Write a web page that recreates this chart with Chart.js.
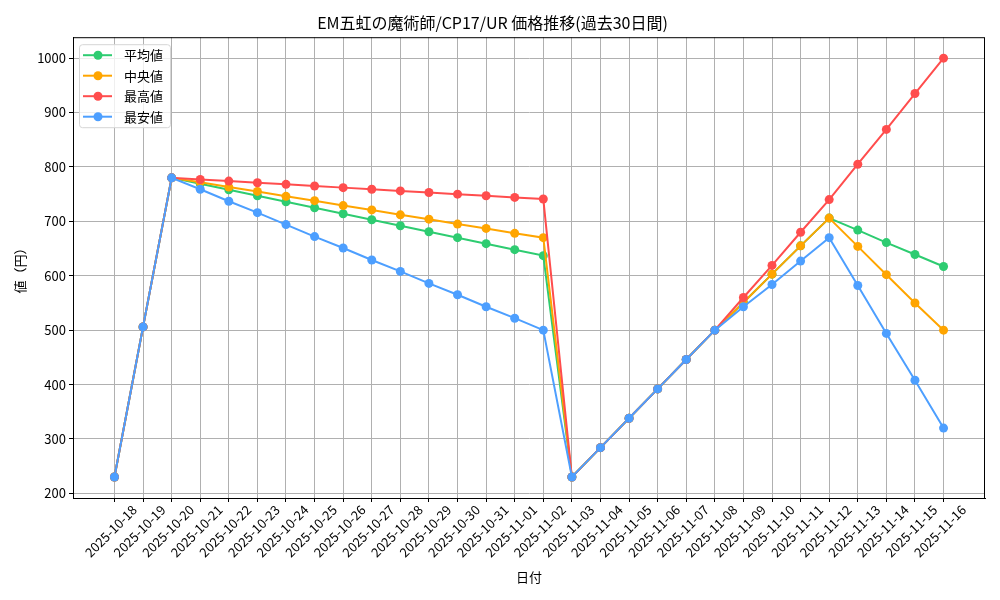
<!DOCTYPE html>
<html>
<head>
<meta charset="utf-8">
<script src="https://cdn.jsdelivr.net/npm/chart.js@4/dist/chart.umd.min.js"></script>
<style>
  html, body { margin: 0; padding: 0; background: #fff; }
  #wrap { width: 1000px; height: 600px; }
</style>
</head>
<body>
<div id="wrap"><canvas id="myChart"></canvas></div>
<script>
const dates = [
    '2025-10-18', '2025-10-19', '2025-10-20', '2025-10-21', '2025-10-22',
    '2025-10-23', '2025-10-24', '2025-10-25', '2025-10-26', '2025-10-27',
    '2025-10-28', '2025-10-29', '2025-10-30', '2025-10-31', '2025-11-01',
    '2025-11-02', '2025-11-03', '2025-11-04', '2025-11-05', '2025-11-06',
    '2025-11-07', '2025-11-08', '2025-11-09', '2025-11-10', '2025-11-11',
    '2025-11-12', '2025-11-13', '2025-11-14', '2025-11-15', '2025-11-16'
];
const avgPrice = [230, 506, 780, 769, 758, 747, 736, 725, 714, 703, 692, 681, 670, 659, 648, 637,
    230, 284, 338, 392, 446, 500, 551, 603, 655, 706, 684, 661, 639, 617];
const medianPrice = [230, 506, 780, 772, 763, 755, 746, 738, 729, 721, 712, 704, 695, 687, 678, 670,
    230, 284, 338, 392, 446, 500, 551, 603, 655, 706, 654, 602, 550, 500];
const maxPrice = [230, 506, 780, 777, 774, 771, 768, 765, 762, 759, 756, 753, 750, 747, 744, 741,
    230, 284, 338, 392, 446, 500, 560, 619, 680, 740, 805, 869, 935, 1000];
const minPrice = [230, 506, 780, 759, 737, 716, 694, 672, 651, 629, 608, 586, 565, 543, 522, 500,
    230, 284, 338, 392, 446, 500, 543, 584, 627, 670, 582, 494, 408, 320];
const yTicks = [200, 300, 400, 500, 600, 700, 800, 900, 1000];

const FONT = '"Noto Sans CJK JP", "Noto Sans", sans-serif';

function series(label, values, color, order) {
    return {
        label: label,
        data: values.map((v, i) => ({ x: i, y: v })),
        borderColor: color,
        backgroundColor: color,
        borderWidth: 2,
        pointRadius: 4.5,
        pointHoverRadius: 4.5,
        pointBorderWidth: 0,
        tension: 0,
        order: order
    };
}

// matplotlib style frame + legend box in upper left
const framePlugin = {
    id: 'frame',
    afterDraw(chart) {
        const { ctx, chartArea: a } = chart;
        ctx.save();
        ctx.strokeStyle = '#000';
        ctx.lineWidth = 1;
        ctx.strokeRect(a.left + 0.5, a.top + 0.5, a.right - a.left - 1, a.bottom - a.top);

        const bx = a.left + 6, by = a.top + 7, bw = 91, bh = 83;
        ctx.fillStyle = 'rgba(255,255,255,0.8)';
        ctx.strokeStyle = '#d6d6d6';
        ctx.beginPath();
        ctx.roundRect(bx + 0.5, by + 0.5, bw, bh, 3);
        ctx.fill();
        ctx.stroke();
        ctx.font = '13px ' + FONT;
        ctx.textBaseline = 'middle';
        chart.data.datasets.forEach((ds, i) => {
            const y = by + 11 + i * 20.5;
            ctx.strokeStyle = ds.borderColor;
            ctx.lineWidth = 2;
            ctx.beginPath();
            ctx.moveTo(bx + 4, y);
            ctx.lineTo(bx + 33, y);
            ctx.stroke();
            ctx.fillStyle = ds.borderColor;
            ctx.beginPath();
            ctx.arc(bx + 19, y, 4.5, 0, Math.PI * 2);
            ctx.fill();
            ctx.fillStyle = '#000';
            ctx.fillText(ds.label, bx + 45, y);
        });
        ctx.restore();
    }
};

new Chart(document.getElementById('myChart'), {
    type: 'line',
    data: {
        datasets: [
            series('平均値', avgPrice, '#2ecc71', 3),
            series('中央値', medianPrice, '#ffa500', 2),
            series('最高値', maxPrice, '#ff4d4d', 1),
            series('最安値', minPrice, '#4d9fff', 0)
        ]
    },
    options: {
        responsive: true,
        maintainAspectRatio: false,
        animation: false,
        layout: { padding: { left: 0, right: 15, top: 0, bottom: 0 } },
        plugins: {
            legend: { display: false },
            tooltip: { enabled: false },
            title: {
                display: true,
                text: 'EM五虹の魔術師/CP17/UR 価格推移(過去30日間)',
                color: '#000',
                font: { family: FONT, size: 16, weight: 'normal' },
                padding: { top: 13, bottom: 5 }
            }
        },
        scales: {
            x: {
                type: 'linear',
                min: -1.45,
                max: dates.length - 1 + 1.45,
                afterBuildTicks: s => { s.ticks = dates.map((d, i) => ({ value: i })); },
                afterFit: s => { s.height = 102; },
                ticks: {
                    callback: v => dates[v],
                    autoSkip: false,
                    minRotation: 45,
                    maxRotation: 45,
                    labelOffset: 20,
                    padding: 0,
                    color: '#000',
                    font: { family: FONT, size: 13 }
                },
                grid: { color: '#b0b0b0', lineWidth: 1, tickLength: 4, tickColor: '#000', drawTicks: true },
                border: { color: '#000', width: 1 },
                title: {
                    display: true,
                    text: '日付',
                    color: '#000',
                    font: { family: FONT, size: 13 },
                    padding: { top: 0, bottom: 15 }
                }
            },
            y: {
                min: 191.5,
                max: 1038.5,
                afterBuildTicks: s => { s.ticks = yTicks.map(v => ({ value: v })); },
                afterFit: s => { s.width = 73; },
                ticks: {
                    callback: v => String(v),
                    padding: 3,
                    color: '#000',
                    font: { family: FONT, size: 13 }
                },
                grid: { color: '#b0b0b0', lineWidth: 1, tickLength: 4, tickColor: '#000', drawTicks: true },
                border: { color: '#000', width: 1 },
                title: {
                    display: true,
                    text: '値（円）',
                    color: '#000',
                    font: { family: FONT, size: 13 },
                    padding: { top: 12, bottom: 0 }
                }
            }
        }
    },
    plugins: [framePlugin]
});
</script>
</body>
</html>
